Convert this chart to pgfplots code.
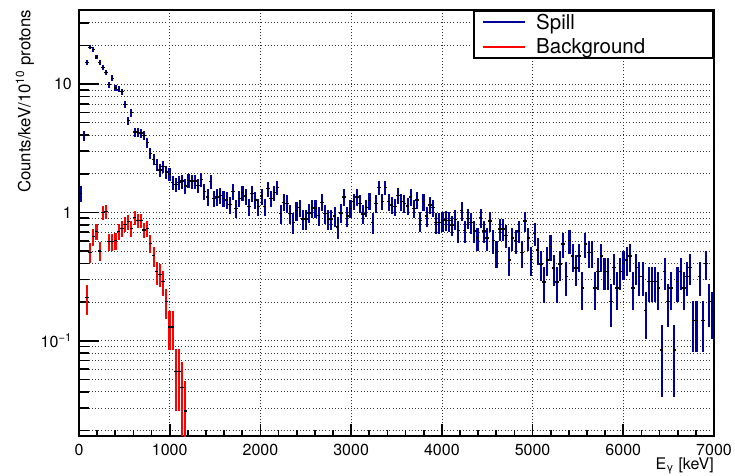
\documentclass[border=0pt]{standalone}
\usepackage{fontspec}
\setmainfont{TeX Gyre Heros}
\usepackage{pgfplots}
\usepackage{pgfplotstable}
\pgfplotsset{compat=1.18}
\definecolor{spill}{RGB}{0,0,153}
\definecolor{bkg}{RGB}{255,0,0}

\pgfplotstableread{
x y e
17.5 1.41 0.196
52.5 3.95 0.328
87.5 14.7 0.633
122.5 19.3 0.725
157.5 18.6 0.712
192.5 16.2 0.664
227.5 14.7 0.633
262.5 13.4 0.604
297.5 12.3 0.579
332.5 9.9 0.519
367.5 11.1 0.550
402.5 9.3 0.503
437.5 9.1 0.498
472.5 8.7 0.487
507.5 6.95 0.435
542.5 5.18 0.376
577.5 5.97 0.403
612.5 4.22 0.339
647.5 4.22 0.339
682.5 4.15 0.336
717.5 3.98 0.329
752.5 3.49 0.308
787.5 2.88 0.280
822.5 2.59 0.266
857.5 2.35 0.253
892.5 2.14 0.241
927.5 2.27 0.249
962.5 2.06 0.237
997.5 1.99 0.233
1032.5 1.70 0.215
1067.5 1.65 0.212
1102.5 1.70 0.215
1137.5 1.75 0.218
1172.5 1.60 0.209
1207.5 1.78 0.220
1242.5 1.75 0.218
1277.5 1.75 0.218
1312.5 1.62 0.210
1347.5 1.80 0.221
1382.5 1.45 0.199
1417.5 1.32 0.190
1452.5 1.73 0.217
1487.5 1.28 0.187
1522.5 1.32 0.190
1557.5 1.36 0.192
1592.5 1.28 0.187
1627.5 1.25 0.184
1662.5 1.15 0.177
1697.5 1.45 0.199
1732.5 1.07 0.171
1767.5 1.28 0.187
1802.5 1.42 0.197
1837.5 1.34 0.191
1872.5 1.105 0.173
1907.5 1.41 0.196
1942.5 1.25 0.184
1977.5 1.105 0.173
2012.5 1.34 0.191
2047.5 1.105 0.173
2082.5 1.53 0.204
2117.5 1.28 0.187
2152.5 1.42 0.197
2187.5 1.56 0.206
2222.5 0.98 0.163
2257.5 1.20 0.181
2292.5 1.175 0.179
2327.5 0.98 0.163
2362.5 0.83 0.150
2397.5 1.03 0.167
2432.5 1.085 0.172
2467.5 0.887 0.155
2502.5 0.887 0.155
2537.5 0.99 0.164
2572.5 1.08 0.171
2607.5 1.08 0.171
2642.5 0.94 0.160
2677.5 1.20 0.181
2712.5 0.98 0.163
2747.5 0.887 0.155
2782.5 0.887 0.155
2817.5 0.935 0.160
2852.5 0.77 0.145
2887.5 0.99 0.164
2922.5 1.32 0.190
2957.5 0.935 0.160
2992.5 1.075 0.171
3027.5 1.22 0.182
3062.5 1.32 0.190
3097.5 1.175 0.179
3132.5 0.97 0.162
3167.5 1.085 0.172
3202.5 1.23 0.183
3237.5 0.83 0.150
3272.5 1.175 0.179
3307.5 1.56 0.206
3342.5 1.22 0.182
3377.5 1.56 0.206
3412.5 1.21 0.182
3447.5 1.14 0.176
3482.5 1.105 0.173
3517.5 1.36 0.192
3552.5 1.21 0.182
3587.5 1.175 0.179
3622.5 1.12 0.175
3657.5 1.32 0.190
3692.5 1.075 0.171
3727.5 1.25 0.184
3762.5 0.86 0.153
3797.5 1.21 0.182
3832.5 0.935 0.160
3867.5 1.14 0.176
3902.5 1.085 0.172
3937.5 0.83 0.150
3972.5 0.83 0.150
4007.5 0.86 0.153
4042.5 0.87 0.154
4077.5 0.86 0.153
4112.5 0.796 0.147
4147.5 0.88 0.155
4182.5 0.719 0.140
4217.5 1.03 0.167
4252.5 0.72 0.140
4287.5 0.90 0.157
4322.5 0.83 0.150
4357.5 0.715 0.140
4392.5 0.63 0.131
4427.5 0.91 0.157
4462.5 0.715 0.140
4497.5 0.63 0.131
4532.5 0.855 0.153
4567.5 0.60 0.128
4602.5 0.484 0.115
4637.5 0.74 0.142
4672.5 0.74 0.142
4707.5 0.657 0.134
4742.5 0.425 0.108
4777.5 0.63 0.131
4812.5 0.60 0.128
4847.5 0.715 0.140
4882.5 0.484 0.115
4917.5 0.855 0.153
4952.5 0.63 0.131
4987.5 0.43 0.108
5022.5 0.686 0.137
5057.5 0.508 0.118
5092.5 0.395 0.104
5127.5 0.286 0.088
5162.5 0.425 0.108
5197.5 0.54 0.121
5232.5 0.368 0.100
5267.5 0.286 0.088
5302.5 0.395 0.104
5337.5 0.566 0.124
5372.5 0.315 0.093
5407.5 0.60 0.128
5442.5 0.457 0.112
5477.5 0.368 0.100
5512.5 0.457 0.112
5547.5 0.257 0.084
5582.5 0.566 0.124
5617.5 0.484 0.115
5652.5 0.484 0.115
5687.5 0.257 0.084
5722.5 0.344 0.097
5757.5 0.457 0.112
5792.5 0.344 0.097
5827.5 0.344 0.097
5862.5 0.201 0.074
5897.5 0.37 0.100
5932.5 0.257 0.084
5967.5 0.344 0.097
6002.5 0.40 0.104
6037.5 0.425 0.108
6072.5 0.457 0.112
6107.5 0.257 0.084
6142.5 0.37 0.100
6177.5 0.315 0.093
6212.5 0.315 0.093
6247.5 0.171 0.068
6282.5 0.288 0.089
6317.5 0.288 0.089
6352.5 0.288 0.089
6387.5 0.257 0.084
6422.5 0.0845 0.048
6457.5 0.344 0.097
6492.5 0.201 0.074
6527.5 0.257 0.084
6562.5 0.0845 0.048
6597.5 0.288 0.089
6632.5 0.344 0.097
6667.5 0.257 0.084
6702.5 0.315 0.093
6737.5 0.37 0.100
6772.5 0.143 0.062
6807.5 0.143 0.062
6842.5 0.315 0.093
6877.5 0.143 0.062
6912.5 0.40 0.104
6947.5 0.201 0.074
6982.5 0.171 0.068
}\spilltab

\pgfplotstableread{
x y e
87.5 0.216 0.056
122.5 0.488 0.084
157.5 0.645 0.096
192.5 0.706 0.101
227.5 0.50 0.085
262.5 0.993 0.120
297.5 1.01 0.121
332.5 0.59 0.092
367.5 0.59 0.092
402.5 0.60 0.093
437.5 0.706 0.101
472.5 0.75 0.104
507.5 0.806 0.108
542.5 0.845 0.110
577.5 0.75 0.104
612.5 0.908 0.114
647.5 0.86 0.111
682.5 0.86 0.111
717.5 0.728 0.102
752.5 0.75 0.104
787.5 0.573 0.091
822.5 0.459 0.081
857.5 0.344 0.070
892.5 0.329 0.069
927.5 0.288 0.064
962.5 0.201 0.054
997.5 0.128 0.043
1032.5 0.128 0.043
1067.5 0.0573 0.029
1102.5 0.0573 0.029
1137.5 0.043 0.025
1172.5 0.0284 0.020
}\bkgtab

\begin{document}
\begin{tikzpicture}
\begin{semilogyaxis}[
  scale only axis, width=635pt, height=426pt,
  xmin=0, xmax=7000, ymin=0.0181, ymax=37.7,
  axis line style={line width=1.6pt},
  tick pos=left, tick align=inside,
  every tick/.append style={black, line width=1.6pt},
  xtick style={/pgfplots/major tick length=12pt, /pgfplots/minor tick length=6pt},
  ytick style={/pgfplots/major tick length=20pt, /pgfplots/minor tick length=10pt},
  xtick={0,1000,2000,3000,4000,5000,6000,7000}, minor x tick num=4,
  ytick={0.1,1,10}, yticklabels={10\textsuperscript{−1},1,10},
  minor ytick={0.02,0.03,0.04,0.05,0.06,0.07,0.08,0.09,0.2,0.3,0.4,0.5,0.6,0.7,0.8,0.9,2,3,4,5,6,7,8,9,20,30},
  xmajorgrids, ymajorgrids, yminorgrids,
  major grid style={black!80, line width=0.6pt, dash pattern=on 0.8pt off 2.4pt},
  minor grid style={black!80, line width=0.6pt, dash pattern=on 0.8pt off 2.4pt},
  /pgf/number format/assume math mode=true,
  /pgf/number format/1000 sep={},
  ticklabel style={font=\fontsize{16}{16}\selectfont},
  xticklabel style={inner sep=0pt, yshift=-7.5pt},
  yticklabel style={inner sep=0pt, xshift=-7pt},
  ylabel={Counts/keV/10\textsuperscript{10} protons},
  ylabel style={font=\fontsize{16.8}{16.8}\selectfont, at={(rel axis cs:-0.085,1)}, anchor=east, inner sep=0pt},
  xlabel={E\textsubscript{γ} [keV]},
  xlabel style={font=\fontsize{16}{16}\selectfont, at={(rel axis cs:1,-0.05)}, anchor=north east, inner sep=0pt},
  legend image code/.code={\draw[#1] (0pt,0pt) -- (42pt,0pt);},
  legend cell align=left,
  legend style={at={(1,1)}, anchor=north east, draw=black, line width=1.6pt, fill=white,
    font=\fontsize{20.5}{23}\selectfont, inner xsep=8pt, inner ysep=3pt,
    nodes={inner sep=0pt}, column sep=10pt, row sep=8pt},
]
\addlegendimage{spill, line width=2pt}
\addlegendentry{\makebox[169pt][l]{Spill}}
\addlegendimage{bkg, line width=2pt}
\addlegendentry{\makebox[169pt][l]{Background}}

\addplot[spill, mark=none, draw=none, forget plot,
  error bars/.cd, y dir=both, y explicit, error mark=none, error bar style={spill, line width=2.1pt}]
  table[x=x, y=y, y error=e] {\spilltab};
\addplot[only marks, mark=-, mark size=1.7pt, mark options={black, line width=1.3pt}, forget plot]
  table[x=x, y=y] {\spilltab};
\addplot[bkg, mark=none, draw=none, forget plot,
  error bars/.cd, y dir=both, y explicit, error mark=none, error bar style={bkg, line width=2.1pt}]
  table[x=x, y=y, y error=e] {\bkgtab};
\addplot[only marks, mark=-, mark size=1.7pt, mark options={black, line width=1.3pt}, forget plot]
  table[x=x, y=y] {\bkgtab};
\end{semilogyaxis}
\path[use as bounding box] (-79pt,-39pt) rectangle (656pt,436pt);
\end{tikzpicture}
\end{document}
